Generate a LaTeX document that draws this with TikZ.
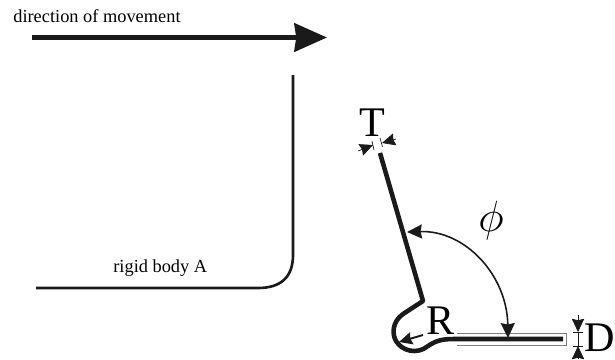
\documentclass[tikz,border=0pt]{standalone}
\usepackage{fontspec}
\setmainfont{Liberation Serif}
\usetikzlibrary{arrows.meta}
\definecolor{inkblack}{HTML}{1A1A1A}
\tikzset{
  smalltip/.style={-{Stealth[length=7.5pt,width=7pt,inset=0.8pt]}},
  bodyline/.style={line width=1.5pt, inkblack, line join=round},
  sheetline/.style={line width=2.6pt, inkblack, line join=round},
  dimtick/.style={line width=0.4pt, inkblack},
  biglabel/.style={font=\fontsize{24}{24}\selectfont, inner sep=0pt},
  textlabel/.style={font=\fontsize{10.45}{12}\selectfont, inner sep=0pt, anchor=base west}
}
\begin{document}
\begin{tikzpicture}[x=0.02cm,y=-0.02cm]
\useasboundingbox (0,0) rectangle (615,359);
% direction of movement
\node[textlabel] (dirlabel) at (13,22) {direction of movement};
\coordinate (dirstart) at (32,37.5);
\coordinate (dirtip) at (327,37.5);
\draw[line width=2.9pt, inkblack, -{Stealth[length=18.5pt,width=16pt,inset=1pt]}] (dirstart) -- (dirtip);
% rigid body A
\node[textlabel] (bodylabel) at (113,272) {rigid body A};
\coordinate (bodytop) at (293,75);
\coordinate (bodyend) at (36,288);
\draw[bodyline] (bodytop) -- (293,255) .. controls (293,277) and (281,288) .. (258,288) -- (bodyend);
% outline of the flange
\coordinate (flangea) at (457,333);
\coordinate (flangeb) at (566,345);
\draw[gray, line width=0.5pt] (flangea) -- (566,333) -- (flangeb) -- (457,345);
% bent sheet
\coordinate (sheettop) at (380,153);
\coordinate (sheetbend) at (423,301);
\coordinate (sheetend) at (563,339);
\draw[sheetline] (sheettop) -- (sheetbend) -- (403,314)
  .. controls (392,322) and (392,334) .. (396,341)
  .. controls (402,351) and (417,355) .. (428,346)
  .. controls (437,340) and (443,339) .. (455,339) -- (sheetend);
% thickness T
\node[biglabel] (tlabel) at (372,123) {T};
\coordinate (tleftstart) at (358,151);
\coordinate (tlefttip) at (373,145);
\coordinate (trightstart) at (396,139);
\coordinate (trighttip) at (382,143);
\draw[dimtick, smalltip] (tleftstart) -- (tlefttip);
\draw[dimtick, smalltip] (trightstart) -- (trighttip);
\draw[dimtick] (372,141) -- (374,150);
\draw[dimtick] (380,138) -- (382.5,147);
% radius R
\node[biglabel] (rlabel) at (441,321) {R};
\coordinate (rstart) at (423,335);
\coordinate (rtip) at (399,342);
\draw[line width=1.1pt, inkblack, smalltip] (rstart) -- (rtip);
% angle phi
\node[biglabel] (philabel) at (491,221) {$\phi$};
\coordinate (phitipa) at (407,232);
\coordinate (phitipb) at (508,338);
\draw[line width=0.9pt, inkblack, {Stealth[length=8.5pt,width=8pt,inset=0.8pt]}-{Stealth[length=8.5pt,width=8pt,inset=0.8pt]}]
  (phitipa) .. controls (465,230) and (507,275) .. (phitipb);
% depth D
\node[biglabel] (dlabel) at (600,338) {D};
\coordinate (dtopstart) at (578,315);
\coordinate (dtoptip) at (578,332);
\coordinate (dbotstart) at (578,358);
\coordinate (dbottip) at (578,346);
\draw[dimtick, smalltip] (dtopstart) -- (dtoptip);
\draw[dimtick, smalltip] (dbotstart) -- (dbottip);
\draw[dimtick] (dtoptip) -- (dbottip);
\draw[dimtick] (573,332.5) -- (583,332.5);
\draw[dimtick] (573,346) -- (583,346);
\end{tikzpicture}
\end{document}
